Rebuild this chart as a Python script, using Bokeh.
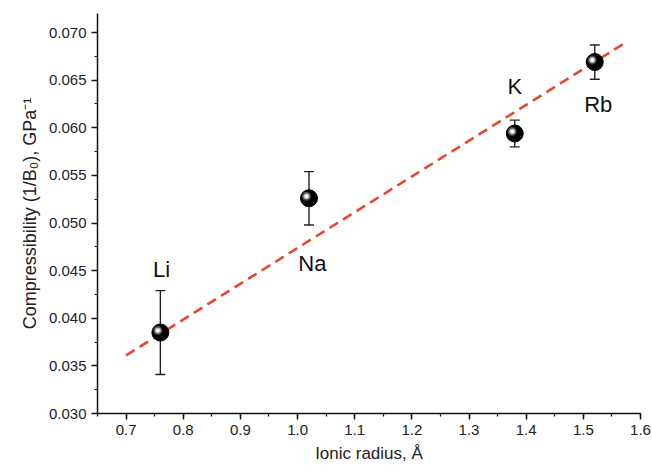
from bokeh.plotting import figure
from bokeh.models import (ColumnDataSource, Whisker, TeeHead, Range1d,
                          SingleIntervalTicker, NumeralTickFormatter)
from bokeh.core.properties import value
from bokeh.embed import file_html
from bokeh.resources import INLINE

# ---- data ----
elements = ["Li", "Na", "K", "Rb"]
radius = [0.76, 1.02, 1.38, 1.52]
compress = [0.0385, 0.0526, 0.0594, 0.0669]
err = [0.0044, 0.0028, 0.0014, 0.0018]

fit_x = [0.70, 1.57]
fit_y = [0.0361, 0.0688]

label_x = [0.762, 1.026, 1.38, 1.526]
label_y = [0.0451, 0.0457, 0.0643, 0.0624]

x_ticks_interval = 0.1
y_ticks_interval = 0.005

FONT = "Liberation Sans"

p = figure(width=652, height=472, output_backend="svg", toolbar_location=None,
           x_range=Range1d(0.65, 1.6), y_range=Range1d(0.030, 0.072),
           min_border_left=97, min_border_right=12, min_border_top=13,
           min_border_bottom=59)
p.outline_line_color = None
p.grid.visible = False
p.background_fill_color = "white"
p.border_fill_color = "white"

# fit line
p.line(fit_x, fit_y, line_color="#e5482f", line_width=2.6, line_dash="10 6")

# error bars
src = ColumnDataSource(dict(
    x=radius, y=compress,
    upper=[c + e for c, e in zip(compress, err)],
    lower=[c - e for c, e in zip(compress, err)],
))
wh = Whisker(base="x", upper="upper", lower="lower", source=src,
             line_color="#222222", line_width=1.4,
             upper_head=TeeHead(size=10, line_color="#222222", line_width=1.4),
             lower_head=TeeHead(size=10, line_color="#222222", line_width=1.4))
p.add_layout(wh)

# sphere-like markers
p.scatter("x", "y", source=src, size=17, fill_color="black", line_color="black")
px_x = 1.0 / 571.6   # data units per pixel (x)
px_y = 0.042 / 400.0  # data units per pixel (y)
hx = [r - 2.5 * px_x for r in radius]
hy = [c + 2.0 * px_y for c in compress]
p.scatter(hx, hy, size=9, fill_color="#5a5a5a", line_color=None, fill_alpha=0.8)
p.scatter(hx, hy, size=6, fill_color="#b8b8b8", line_color=None)
p.scatter(hx, hy, size=3.5, fill_color="white", line_color=None)

# element labels
p.text(label_x, label_y, text=elements, text_align="center",
       text_baseline="middle", text_font=value(FONT), text_font_size="22px",
       text_color="#111111")

# axes
xa = p.xaxis[0]
ya = p.yaxis[0]
xa.ticker = SingleIntervalTicker(interval=x_ticks_interval, num_minor_ticks=2)
ya.ticker = SingleIntervalTicker(interval=y_ticks_interval, num_minor_ticks=2)
xa.formatter = NumeralTickFormatter(format="0.0")
ya.formatter = NumeralTickFormatter(format="0.000")
for ax in (xa, ya):
    ax.axis_line_color = "#111111"
    ax.axis_line_width = 1.5
    ax.major_tick_line_color = "#111111"
    ax.minor_tick_line_color = "#111111"
    ax.major_tick_line_width = 1.5
    ax.minor_tick_line_width = 1.2
    ax.major_tick_out = 6
    ax.major_tick_in = 0
    ax.minor_tick_out = 3
    ax.minor_tick_in = 0
    ax.major_label_text_font = FONT
    ax.major_label_text_font_size = "15px"
    ax.major_label_text_color = "#222222"
    ax.major_label_standoff = 5
    ax.axis_label_text_font = FONT
    ax.axis_label_text_font_style = "normal"
    ax.axis_label_text_color = "#222222"

xa.axis_label = "Ionic radius, Å"
xa.axis_label_text_font_size = "17px"
xa.axis_label_standoff = 6
ya.axis_label = "Compressibility (1/B\u2080), GPa\u207b\u00b9"
ya.axis_label_text_font_size = "18px"
ya.axis_label_standoff = 6

open("out.html", "w").write(file_html(p, INLINE))
